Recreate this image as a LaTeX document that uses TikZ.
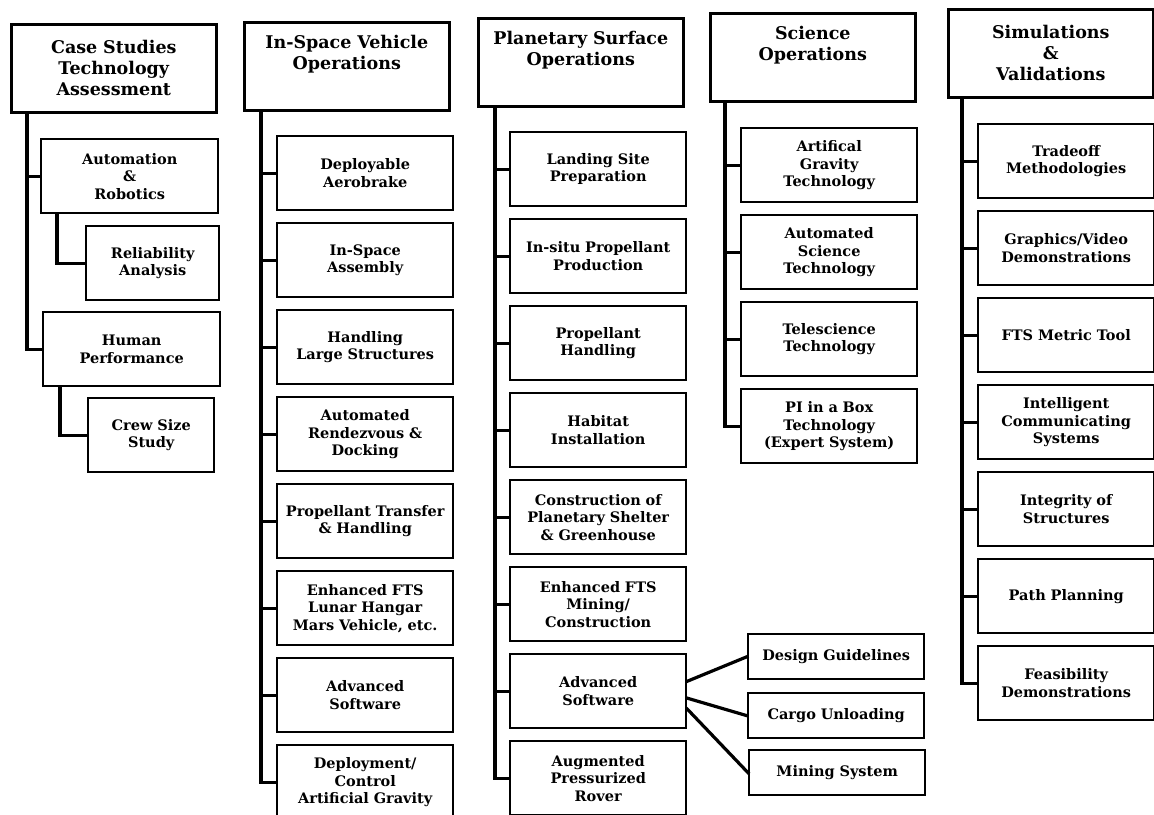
\documentclass[tikz,border=0pt]{standalone}
\usepackage{fontspec}
\setmainfont{DejaVu Serif}
\usepackage{tikz}
\usetikzlibrary{calc}

\tikzset{
  head/.style={draw, line width=2.6pt, anchor=north west, minimum width=205pt,
    minimum height=88pt, text width=201pt, inner sep=2pt, align=center,
    font=\fontsize{17.5}{21}\selectfont\bfseries},
  task/.style={draw, line width=2.4pt, anchor=north west, minimum width=176pt,
    minimum height=74pt, text width=174pt, inner sep=1pt, align=center,
    font=\fontsize{14.5}{17.5}\selectfont\bfseries},
  leaf/.style={task, minimum height=45pt},
  link/.style={line width=3.2pt, line cap=rect}
}

\begin{document}
\begin{tikzpicture}[x=1pt,y=-1pt]
  \useasboundingbox (0,0) rectangle (1154,814);

  % column headers
  \node[head] (cs) at (10,23) {Case Studies\\Technology\\Assessment};
  \node[head] (iv) at (243,21) {In-Space Vehicle\\Operations\\\strut};
  \node[head] (ps) at (477,17) {Planetary Surface\\Operations\\\strut};
  \node[head] (so) at (709,12) {Science\\Operations\\\strut};
  \node[head] (sv) at (947,8) {Simulations\\\&\\Validations};

  % case studies
  \node[task, minimum width=177pt, text width=175pt] (ar) at (40,138) {Automation\\\&\\Robotics};
  \node[task, minimum width=133pt, text width=131pt] (ra) at (85,225) {Reliability\\Analysis};
  \node[task, minimum width=177pt, text width=175pt] (hp) at (42,311) {Human\\Performance};
  \node[task, minimum width=126pt, text width=124pt] (cz) at (87,397) {Crew Size\\Study};
  \draw[link] ([xshift=17pt]cs.south west) |- (ar.west);
  \draw[link] ([xshift=17pt]cs.south west) |- (hp.west);
  \draw[link] ([xshift=17pt]ar.south west) |- (ra.west);
  \draw[link] ([xshift=18pt]hp.south west) |- (cz.west);

  % in-space vehicle operations
  \foreach \t [count=\i] in {{Deployable\\Aerobrake}, {In-Space\\Assembly},
      {Handling\\Large Structures}, {Automated\\Rendezvous \&\\Docking},
      {Propellant Transfer\\\& Handling}, {Enhanced FTS\\Lunar Hangar\\Mars Vehicle, etc.},
      {Advanced\\Software}, {Deployment/\\Control\\Artificial Gravity}} {
    \node[task] (iv\i) at (276,{135+87*(\i-1)}) {\t};
    \draw[link] ([xshift=18pt]iv.south west) |- (iv\i.west);
  }

  % planetary surface operations
  \foreach \t [count=\i] in {{Landing Site\\Preparation}, {In-situ Propellant\\Production},
      {Propellant\\Handling}, {Habitat\\Installation},
      {Construction of\\Planetary Shelter\\\& Greenhouse}, {Enhanced FTS\\Mining/\\Construction},
      {Advanced\\Software}, {Augmented\\Pressurized\\Rover}} {
    \node[task] (ps\i) at (509,{131+87*(\i-1)}) {\t};
    \draw[link] ([xshift=18pt]ps.south west) |- (ps\i.west);
  }

  % advanced software branches
  \node[leaf] (dg) at (747,633) {Design Guidelines};
  \node[leaf] (cu) at (747,692) {Cargo Unloading};
  \node[leaf] (ms) at (748,749) {Mining System};
  \draw[link] ([yshift=10pt]ps7.east) -- (dg.west);
  \draw[link] ([yshift=-7pt]ps7.east) -- (cu.west);
  \draw[link] ([yshift=-18pt]ps7.east) -- (ms.west);

  % science operations
  \foreach \t [count=\i] in {{Artifical\\Gravity\\Technology}, {Automated\\Science\\Technology},
      {Telescience\\Technology}, {PI in a Box\\Technology\\(Expert System)}} {
    \node[task] (so\i) at (740,{127+87*(\i-1)}) {\t};
    \draw[link] ([xshift=16pt]so.south west) |- (so\i.west);
  }

  % simulations and validations
  \foreach \t [count=\i] in {{Tradeoff\\Methodologies}, {Graphics/Video\\Demonstrations},
      {FTS Metric Tool}, {Intelligent\\Communicating\\Systems},
      {Integrity of\\Structures}, {Path Planning}, {Feasibility\\Demonstrations}} {
    \node[task] (sv\i) at (977,{123+87*(\i-1)}) {\t};
    \draw[link] ([xshift=15pt]sv.south west) |- (sv\i.west);
  }
\end{tikzpicture}
\end{document}
